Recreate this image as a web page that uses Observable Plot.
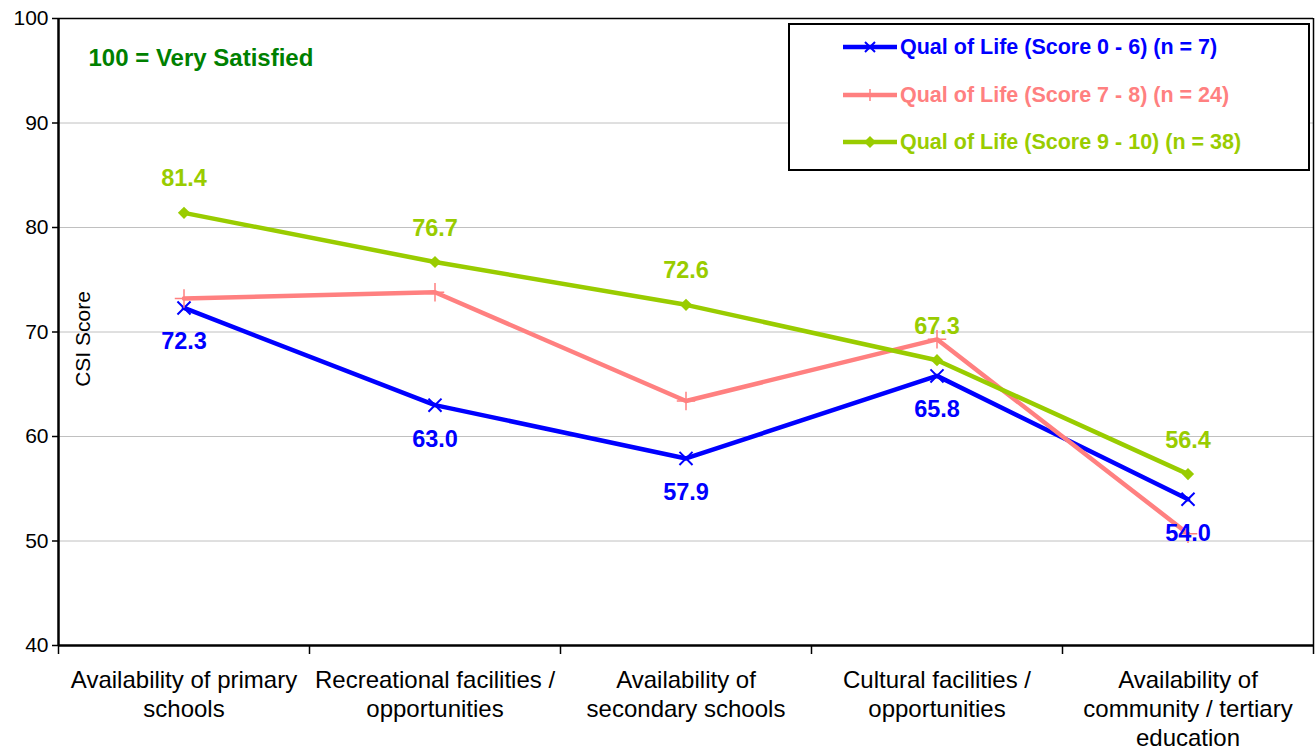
<!DOCTYPE html>
<html>
<head>
<meta charset="utf-8">
<script src="https://cdn.jsdelivr.net/npm/d3@7"></script>
<script src="https://cdn.jsdelivr.net/npm/@observablehq/plot@0.6"></script>
<style>
  html, body { margin: 0; padding: 0; background: #fff; }
  #wrap { position: relative; width: 1316px; height: 751px; font-family: "Liberation Sans", Arial, sans-serif; }
  #legend { position: absolute; left: 788px; top: 23px; width: 522px; height: 148px; border: 2px solid #000; box-sizing: border-box; background: #fff; }
  .row { position: absolute; left: 52px; height: 24px; display: flex; align-items: center; font-weight: bold; font-size: 21.5px; white-space: nowrap; }
  .row svg { margin-right: 2px; }
</style>
</head>
<body>
<div id="wrap"></div>
<script>
const categories = [
  "Availability of primary\nschools",
  "Recreational facilities /\nopportunities",
  "Availability of\nsecondary schools",
  "Cultural facilities /\nopportunities",
  "Availability of\ncommunity / tertiary\neducation"
];
const seriesNames = [
  "Qual of Life (Score 0 - 6) (n = 7)",
  "Qual of Life (Score 7 - 8) (n = 24)",
  "Qual of Life (Score 9 - 10) (n = 38)"
];
const qol06 = [72.3, 63.0, 57.9, 65.8, 54.0];
const qol78 = [73.2, 73.8, 63.4, 69.3, 50.7];
const qol910 = [81.4, 76.7, 72.6, 67.3, 56.4];
const yTicks = [40, 50, 60, 70, 80, 90, 100];
const colors = ["#0000FF", "#FF8080", "#99CC00"];
const symbols = ["times", "plus", "diamond2"];

const rows = (vals) => vals.map((v, i) => ({i, v}));
const s0 = rows(qol06), s1 = rows(qol78), s2 = rows(qol910);
const boundaries = d3.range(-0.5, categories.length, 1);
const font = "Liberation Sans, Arial, sans-serif";

const chart = Plot.plot({
  width: 1316,
  height: 751,
  marginLeft: 58,
  marginRight: 3,
  marginTop: 18,
  marginBottom: 106,
  style: {fontFamily: font, background: "#fff", color: "#000"},
  x: {type: "linear", domain: [-0.5, categories.length - 0.5]},
  y: {domain: [40, 100]},
  marks: [
    Plot.gridY(yTicks.filter(d => d > 40 && d < 100), {stroke: "#c0c0c0", strokeOpacity: 1, strokeWidth: 1}),
    Plot.ruleY([100], {stroke: "#000", strokeWidth: 1.5}),
    Plot.ruleX([categories.length - 0.5], {stroke: "#000", strokeWidth: 1.5}),
    Plot.axisY({ticks: yTicks, tickSize: 6, tickPadding: 4, fontSize: 21, label: null, stroke: "#000", strokeWidth: 1.5}),
    Plot.axisX({ticks: boundaries, tickSize: 9, tickFormat: () => "", label: null, stroke: "#000", strokeWidth: 1.5}),
    Plot.axisX({ticks: d3.range(categories.length), tickSize: 0, tickPadding: 22, tickFormat: i => categories[i], fontSize: 24, lineHeight: 1.2, label: null}),
    Plot.ruleX([-0.5], {stroke: "#000", strokeWidth: 2.5}),
    Plot.ruleY([40], {stroke: "#000", strokeWidth: 2.5}),
    Plot.text(["100 = Very Satisfied"], {frameAnchor: "top-left", dx: 30, dy: 40, textAnchor: "start", lineAnchor: "middle", fill: "#008000", fontWeight: "bold", fontSize: 24}),
    Plot.text(["CSI Score"], {frameAnchor: "left", rotate: -90, dx: 25, dy: 7, textAnchor: "middle", lineAnchor: "middle", fill: "#000", fontSize: 21}),
    Plot.line(s0, {x: "i", y: "v", stroke: colors[0], strokeWidth: 4.5}),
    Plot.dot(s0, {x: "i", y: "v", symbol: symbols[0], stroke: colors[0], strokeWidth: 2, r: 6}),
    Plot.line(s1, {x: "i", y: "v", stroke: colors[1], strokeWidth: 4.5}),
    Plot.dot(s1, {x: "i", y: "v", symbol: symbols[1], stroke: colors[1], strokeWidth: 1.5, r: 6}),
    Plot.line(s2, {x: "i", y: "v", stroke: colors[2], strokeWidth: 4.5}),
    Plot.dot(s2, {x: "i", y: "v", symbol: symbols[2], fill: colors[2], r: 5.5}),
    Plot.text(s2, {x: "i", y: "v", text: d => d.v.toFixed(1), dy: -34, fill: colors[2], fontWeight: "bold", fontSize: 23.5}),
    Plot.text(s0, {x: "i", y: "v", text: d => d.v.toFixed(1), dy: 34, fill: colors[0], fontWeight: "bold", fontSize: 23.5})
  ]
});

const wrap = document.getElementById("wrap");
wrap.appendChild(chart);

// Legend (overlaid inside plot area)
const legend = document.createElement("div");
legend.id = "legend";
const rowTops = [10, 58, 105];
const symbolPaths = {
  times: '<path d="M23,3 L33,13 M33,3 L23,13" stroke="COL" stroke-width="2" fill="none"/>',
  plus: '<path d="M28,2 L28,14" stroke="COL" stroke-width="1.5" fill="none"/>',
  diamond2: '<path d="M28,2 L34,8 L28,14 L22,8 Z" fill="COL"/>'
};
seriesNames.forEach((name, k) => {
  const row = document.createElement("div");
  row.className = "row";
  row.style.top = rowTops[k] + "px";
  row.style.color = colors[k];
  row.innerHTML = `<svg width="56" height="16"><line x1="1" x2="55" y1="8" y2="8" stroke="${colors[k]}" stroke-width="4.5"/>${symbolPaths[symbols[k]].replace(/COL/g, colors[k])}</svg><span>${name}</span>`;
  legend.appendChild(row);
});
wrap.appendChild(legend);
</script>
</body>
</html>
